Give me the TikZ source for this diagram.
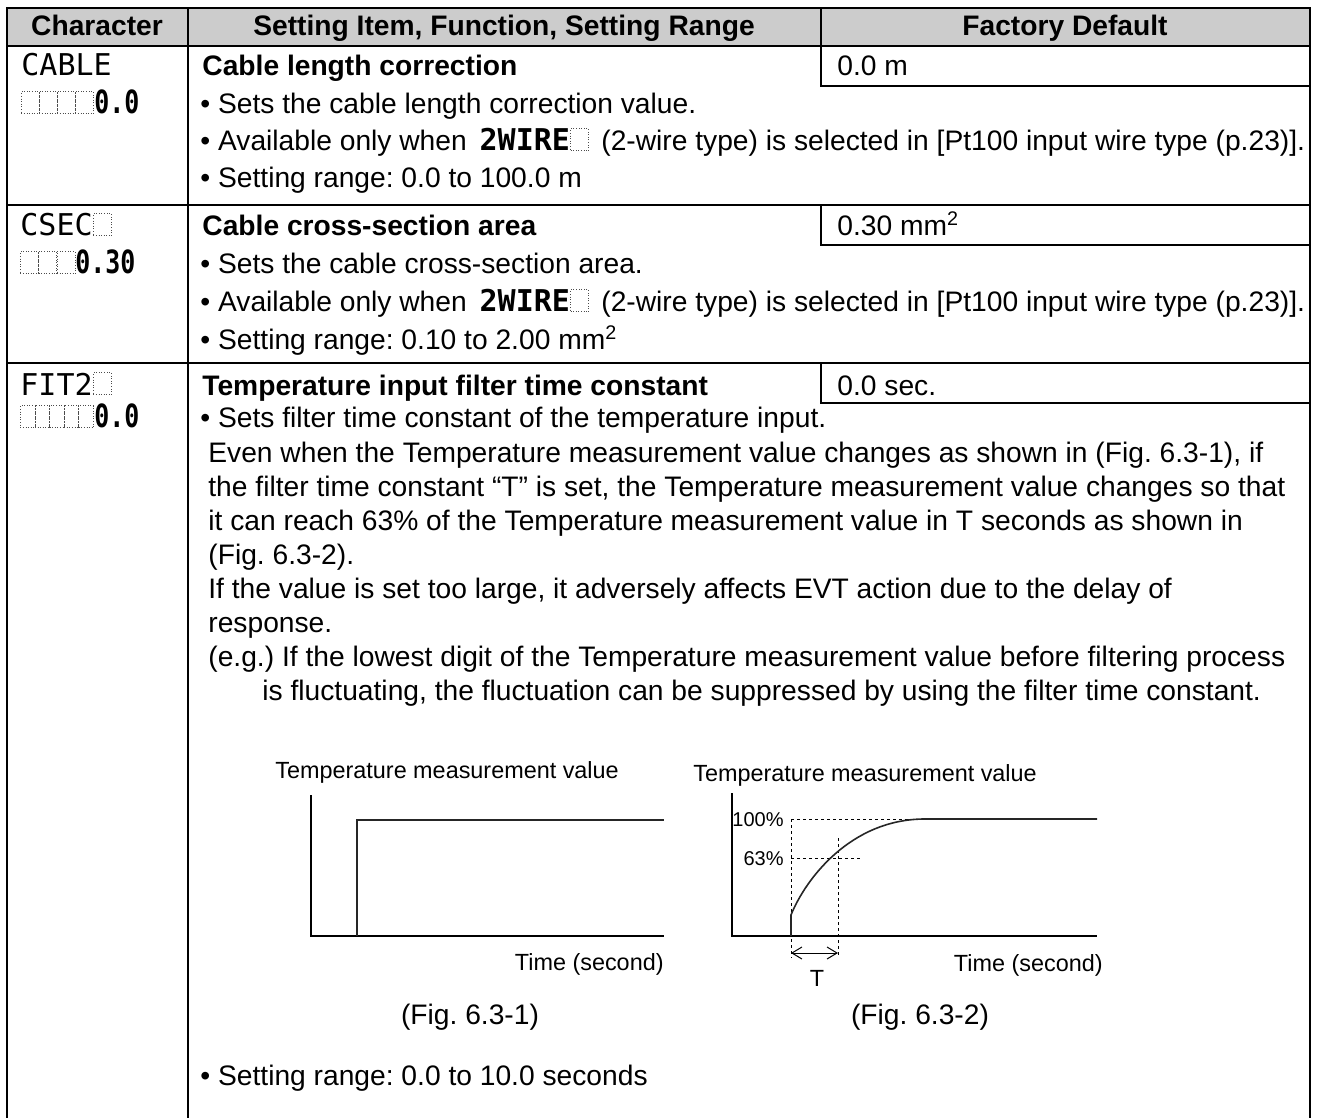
\documentclass[tikz,border=0pt]{standalone}
\usepackage{fontspec}
\setmainfont{Liberation Sans}
\newfontfamily\lcdfont{DejaVu Sans Mono}
\newfontfamily\lcdnum[FakeStretch=0.78]{DejaVu Sans Mono}
\usepackage{tikz}
\usetikzlibrary{positioning, arrows.meta}
\frenchspacing
\tikzset{
    x=0.5pt, y=-0.5pt, % one unit is one pixel of the page, y runs downwards
    frame/.style={line width=1.1pt}, % table rules
    txt/.style={inner sep=0pt, anchor=base west, font=\fontsize{14.1}{17}\selectfont}, % body text
    ttl/.style={txt, font=\fontsize{14.1}{17}\selectfont\bfseries}, % item titles
    hdr/.style={inner sep=0pt, anchor=base, font=\fontsize{14.1}{17}\selectfont\bfseries}, % header cells
    lcd/.style={inner sep=0pt, anchor=base west, font=\lcdfont\fontsize{15}{15}\selectfont}, % display letters
    lcdw/.style={lcd, font=\lcdfont\bfseries\fontsize{15}{15}\selectfont}, % bold display letters
    lcdn/.style={lcd, font=\lcdnum\bfseries\fontsize{16}{16}\selectfont}, % display digits
    cell/.style={draw=black!70, densely dotted, line width=0.3pt, inner sep=0pt, minimum width=9pt, minimum height=11pt, anchor=south west}, % empty display digit
    lbl/.style={inner sep=0pt, font=\fontsize{11.7}{14}\selectfont}, % figure text
    pct/.style={inner sep=0pt, font=\fontsize{10}{12}\selectfont}, % percent marks
    axis/.style={line width=1pt}, % figure axes
    trace/.style={line width=0.8pt, black!85}, % measured value
    guide/.style={line width=0.5pt, dash pattern=on 1.5pt off 1.5pt}, % dashed helper lines
}

\begin{document}
\begin{tikzpicture}
\useasboundingbox (0,0) rectangle (1318,1118);
% table
\fill[black!20] (7,8) rectangle (1310,46);
\draw[frame] (7,1118) -- (7,8) -- (1310,8) -- (1310,1118);
\draw[frame] (188,8) -- (188,1118);
\draw[frame] (821,8) -- (821,46);
\foreach \y in {46,205,363} {
    \draw[frame] (7,\y) -- (1310,\y);
    \draw[frame] (821,\y) -- (821,\y+40) -- (1310,\y+40);
}
\node[hdr] (h1) at (97,36)   {Character};
\node[hdr] (h2) at (504,36)  {Setting Item, Function, Setting Range};
\node[hdr] (h3) at (1065,36) {Factory Default};

% CABLE
\node[lcd] (k1) at (21,76) {CABLE};
\foreach \i in {0,...,3} \node[cell] (c1\i) at (21+18*\i,114) {};
\node[lcdn] (n1) at (94,114) {0.0};
\node[ttl] (t1) at (202,76)  {Cable length correction};
\node[txt] (d1) at (837,76)  {0.0 m};
\node[txt] (s1) at (200,114) {• Sets the cable length correction value.};
\node[txt] (a1) at (200,151) {• Available only when};
\node[lcdw, right=6pt of a1.base east, anchor=base west] (w1) {2WIRE};
\node[cell] (b1) at (w1.base east) {};
\node[txt, right=6pt of b1.south east, anchor=base west] (p1) {(2-wire type) is selected in [Pt100 input wire type (p.23)].};
\node[txt] (r1) at (200,188) {• Setting range: 0.0 to 100.0 m};

% CSEC
\node[lcd] (k2) at (20,236) {CSEC};
\node[cell] (e2) at (k2.base east) {};
\foreach \i in {0,...,2} \node[cell] (c2\i) at (20+18.3*\i,274) {};
\node[lcdn] (n2) at (75,274) {0.30};
\node[ttl] (t2) at (202,236) {Cable cross-section area};
\node[txt] (d2) at (837,236) {0.30 mm\textsuperscript{2}};
\node[txt] (s2) at (200,274) {• Sets the cable cross-section area.};
\node[txt] (a2) at (200,312) {• Available only when};
\node[lcdw, right=6pt of a2.base east, anchor=base west] (w2) {2WIRE};
\node[cell] (b2) at (w2.base east) {};
\node[txt, right=6pt of b2.south east, anchor=base west] (p2) {(2-wire type) is selected in [Pt100 input wire type (p.23)].};
\node[txt] (r2) at (200,350) {• Setting range: 0.10 to 2.00 mm\textsuperscript{2}};

% FIT2
\node[lcd] (k3) at (20,395) {FIT2};
\node[cell] (e3) at (k3.base east) {};
\foreach \i in {0,...,4} \node[cell, minimum width=7.3pt] (c3\i) at (20+14.6*\i,428) {};
\node[lcdn] (n3) at (94,428) {0.0};
\node[ttl] (t3) at (202,395) {Temperature input filter time constant};
\node[txt] (d3) at (837,395) {0.0 sec.};
\node[txt] (s3) at (200,428) {• Sets filter time constant of the temperature input.};
\node[txt] (l1) at (208,462) {Even when the Temperature measurement value changes as shown in (Fig. 6.3-1), if};
\node[txt] (l2) at (208,496) {the filter time constant “T” is set, the Temperature measurement value changes so that};
\node[txt] (l3) at (208,530) {it can reach 63\% of the Temperature measurement value in T seconds as shown in};
\node[txt] (l4) at (208,564) {(Fig. 6.3-2).};
\node[txt] (l5) at (208,598) {If the value is set too large, it adversely affects EVT action due to the delay of};
\node[txt] (l6) at (208,632) {response.};
\node[txt] (l7) at (208,666) {(e.g.) If the lowest digit of the Temperature measurement value before filtering process};
\node[txt] (l8) at (262,700) {is fluctuating, the fluctuation can be suppressed by using the filter time constant.};

% Fig. 6.3-1
\node[lbl, anchor=base west] (v1) at (275,778) {Temperature measurement value};
\draw[axis] (311,795) -- (311,936) -- (664,936);
\draw[trace] (357,936) -- (357,820) -- (664,820);
\node[lbl, anchor=base east] (x1) at (664,970) {Time (second)};
\node[txt, anchor=base] (f1) at (470,1024) {(Fig. 6.3-1)};

% Fig. 6.3-2
\node[lbl, anchor=base west] (v2) at (693,781) {Temperature measurement value};
\draw[axis] (732,793) -- (732,936) -- (1097,936);
\draw[guide] (791,819) -- (925,819);
\draw[guide] (791,858) -- (863,858);
\draw[guide] (791,819) -- (791,958);
\draw[guide] (838,838) -- (838,958);
\draw[trace] (791,936) -- (791,915) .. controls (805,880) and (850,819) .. (925,819) -- (1097,819);
\draw[{Straight Barb[length=5pt,width=6pt]}-{Straight Barb[length=5pt,width=6pt]}, line width=0.5pt] (791,953) -- (838,953);
\node[lbl, anchor=base] (tt) at (817,986) {T};
\node[pct, anchor=base east] (q1) at (784,826) {100\%};
\node[pct, anchor=base east] (q2) at (784,865) {63\%};
\node[lbl, anchor=base east] (x2) at (1103,971) {Time (second)};
\node[txt, anchor=base] (f2) at (920,1024) {(Fig. 6.3-2)};

\node[txt] (r3) at (200,1085) {• Setting range: 0.0 to 10.0 seconds};
\end{tikzpicture}
\end{document}
